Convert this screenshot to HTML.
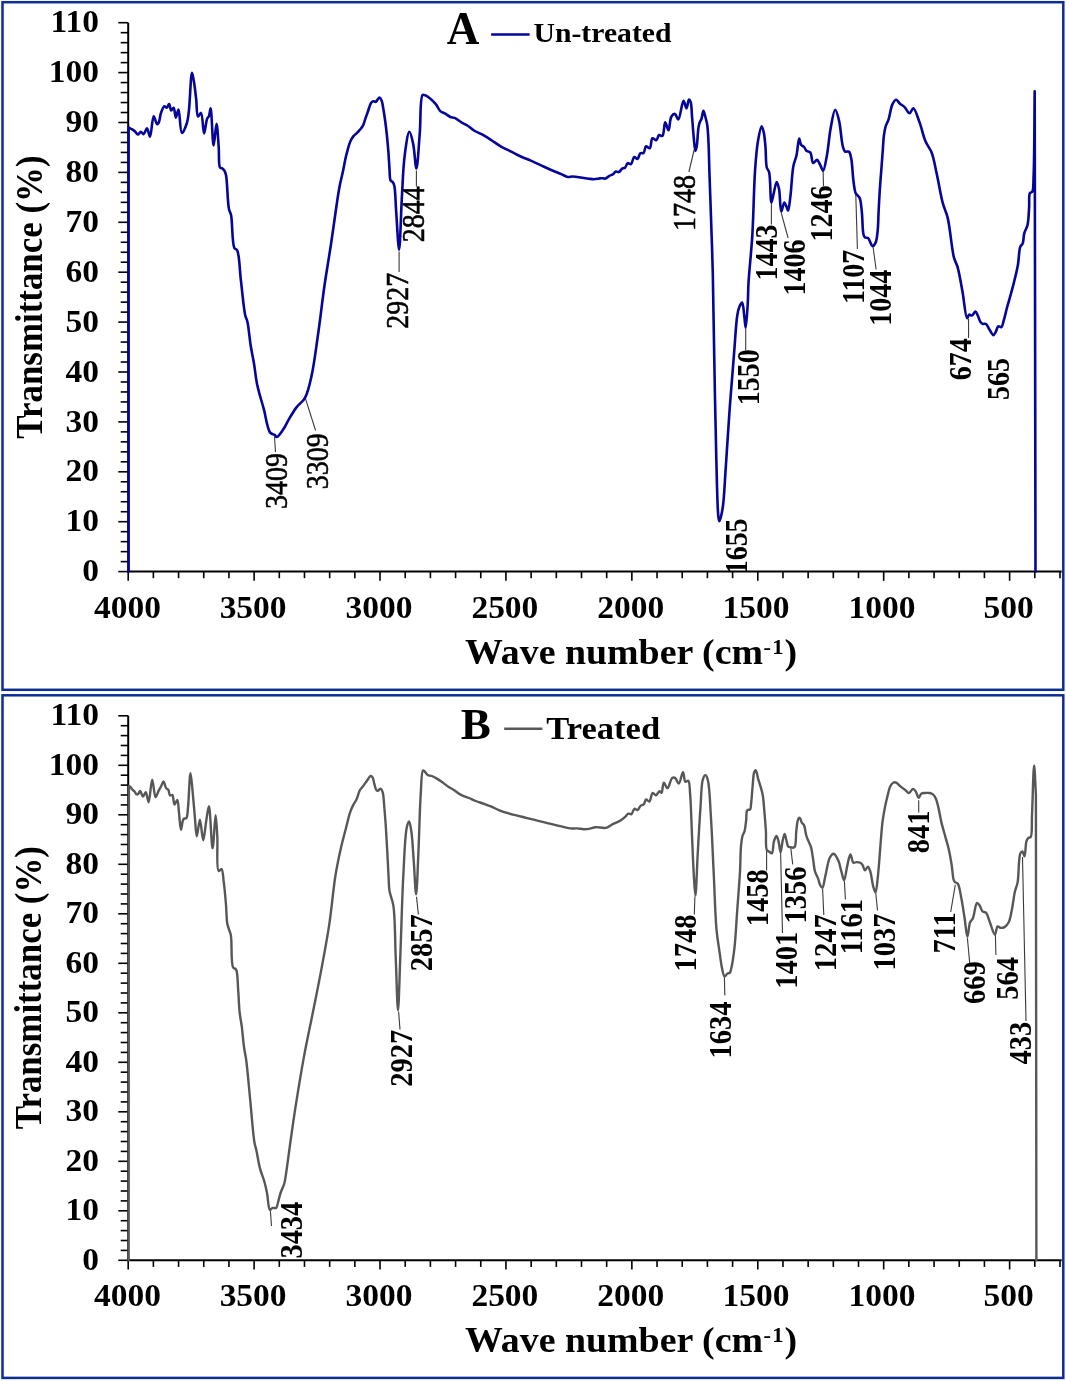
<!DOCTYPE html><html><head><meta charset="utf-8"><style>html,body{margin:0;padding:0;background:#fff;overflow:hidden;}svg{display:block;}</style></head><body>
<svg width="1066" height="1381" viewBox="0 0 1066 1381" style="will-change:transform" font-family='"Liberation Serif", serif'>
<rect width="1066" height="1381" fill="#fff"/>
<rect x="2.5" y="2.2" width="1060.8" height="687.6" fill="none" stroke="#0d2c96" stroke-width="2.5"/>
<rect x="2.5" y="695.3" width="1060.8" height="682.6" fill="none" stroke="#0d2c96" stroke-width="2.5"/>
<g><line x1="128.2" y1="22.7" x2="128.2" y2="571.6" stroke="#000" stroke-width="2"/><line x1="118.3" y1="571.6" x2="128.2" y2="571.6" stroke="#000" stroke-width="1.6"/><line x1="120.7" y1="561.62" x2="128.2" y2="561.62" stroke="#000" stroke-width="1.6"/><line x1="120.7" y1="551.64" x2="128.2" y2="551.64" stroke="#000" stroke-width="1.6"/><line x1="120.7" y1="541.66" x2="128.2" y2="541.66" stroke="#000" stroke-width="1.6"/><line x1="120.7" y1="531.68" x2="128.2" y2="531.68" stroke="#000" stroke-width="1.6"/><line x1="118.3" y1="521.7" x2="128.2" y2="521.7" stroke="#000" stroke-width="1.6"/><line x1="120.7" y1="511.72" x2="128.2" y2="511.72" stroke="#000" stroke-width="1.6"/><line x1="120.7" y1="501.74" x2="128.2" y2="501.74" stroke="#000" stroke-width="1.6"/><line x1="120.7" y1="491.76" x2="128.2" y2="491.76" stroke="#000" stroke-width="1.6"/><line x1="120.7" y1="481.78" x2="128.2" y2="481.78" stroke="#000" stroke-width="1.6"/><line x1="118.3" y1="471.8" x2="128.2" y2="471.8" stroke="#000" stroke-width="1.6"/><line x1="120.7" y1="461.82" x2="128.2" y2="461.82" stroke="#000" stroke-width="1.6"/><line x1="120.7" y1="451.84" x2="128.2" y2="451.84" stroke="#000" stroke-width="1.6"/><line x1="120.7" y1="441.86" x2="128.2" y2="441.86" stroke="#000" stroke-width="1.6"/><line x1="120.7" y1="431.88" x2="128.2" y2="431.88" stroke="#000" stroke-width="1.6"/><line x1="118.3" y1="421.9" x2="128.2" y2="421.9" stroke="#000" stroke-width="1.6"/><line x1="120.7" y1="411.92" x2="128.2" y2="411.92" stroke="#000" stroke-width="1.6"/><line x1="120.7" y1="401.94" x2="128.2" y2="401.94" stroke="#000" stroke-width="1.6"/><line x1="120.7" y1="391.96" x2="128.2" y2="391.96" stroke="#000" stroke-width="1.6"/><line x1="120.7" y1="381.98" x2="128.2" y2="381.98" stroke="#000" stroke-width="1.6"/><line x1="118.3" y1="372" x2="128.2" y2="372" stroke="#000" stroke-width="1.6"/><line x1="120.7" y1="362.02" x2="128.2" y2="362.02" stroke="#000" stroke-width="1.6"/><line x1="120.7" y1="352.04" x2="128.2" y2="352.04" stroke="#000" stroke-width="1.6"/><line x1="120.7" y1="342.06" x2="128.2" y2="342.06" stroke="#000" stroke-width="1.6"/><line x1="120.7" y1="332.08" x2="128.2" y2="332.08" stroke="#000" stroke-width="1.6"/><line x1="118.3" y1="322.1" x2="128.2" y2="322.1" stroke="#000" stroke-width="1.6"/><line x1="120.7" y1="312.12" x2="128.2" y2="312.12" stroke="#000" stroke-width="1.6"/><line x1="120.7" y1="302.14" x2="128.2" y2="302.14" stroke="#000" stroke-width="1.6"/><line x1="120.7" y1="292.16" x2="128.2" y2="292.16" stroke="#000" stroke-width="1.6"/><line x1="120.7" y1="282.18" x2="128.2" y2="282.18" stroke="#000" stroke-width="1.6"/><line x1="118.3" y1="272.2" x2="128.2" y2="272.2" stroke="#000" stroke-width="1.6"/><line x1="120.7" y1="262.22" x2="128.2" y2="262.22" stroke="#000" stroke-width="1.6"/><line x1="120.7" y1="252.24" x2="128.2" y2="252.24" stroke="#000" stroke-width="1.6"/><line x1="120.7" y1="242.26" x2="128.2" y2="242.26" stroke="#000" stroke-width="1.6"/><line x1="120.7" y1="232.28" x2="128.2" y2="232.28" stroke="#000" stroke-width="1.6"/><line x1="118.3" y1="222.3" x2="128.2" y2="222.3" stroke="#000" stroke-width="1.6"/><line x1="120.7" y1="212.32" x2="128.2" y2="212.32" stroke="#000" stroke-width="1.6"/><line x1="120.7" y1="202.34" x2="128.2" y2="202.34" stroke="#000" stroke-width="1.6"/><line x1="120.7" y1="192.36" x2="128.2" y2="192.36" stroke="#000" stroke-width="1.6"/><line x1="120.7" y1="182.38" x2="128.2" y2="182.38" stroke="#000" stroke-width="1.6"/><line x1="118.3" y1="172.4" x2="128.2" y2="172.4" stroke="#000" stroke-width="1.6"/><line x1="120.7" y1="162.42" x2="128.2" y2="162.42" stroke="#000" stroke-width="1.6"/><line x1="120.7" y1="152.44" x2="128.2" y2="152.44" stroke="#000" stroke-width="1.6"/><line x1="120.7" y1="142.46" x2="128.2" y2="142.46" stroke="#000" stroke-width="1.6"/><line x1="120.7" y1="132.48" x2="128.2" y2="132.48" stroke="#000" stroke-width="1.6"/><line x1="118.3" y1="122.5" x2="128.2" y2="122.5" stroke="#000" stroke-width="1.6"/><line x1="120.7" y1="112.52" x2="128.2" y2="112.52" stroke="#000" stroke-width="1.6"/><line x1="120.7" y1="102.54" x2="128.2" y2="102.54" stroke="#000" stroke-width="1.6"/><line x1="120.7" y1="92.56" x2="128.2" y2="92.56" stroke="#000" stroke-width="1.6"/><line x1="120.7" y1="82.58" x2="128.2" y2="82.58" stroke="#000" stroke-width="1.6"/><line x1="118.3" y1="72.6" x2="128.2" y2="72.6" stroke="#000" stroke-width="1.6"/><line x1="120.7" y1="62.62" x2="128.2" y2="62.62" stroke="#000" stroke-width="1.6"/><line x1="120.7" y1="52.64" x2="128.2" y2="52.64" stroke="#000" stroke-width="1.6"/><line x1="120.7" y1="42.66" x2="128.2" y2="42.66" stroke="#000" stroke-width="1.6"/><line x1="120.7" y1="32.68" x2="128.2" y2="32.68" stroke="#000" stroke-width="1.6"/><line x1="118.3" y1="22.7" x2="128.2" y2="22.7" stroke="#000" stroke-width="1.6"/><line x1="127.2" y1="571.6" x2="1061.7" y2="571.6" stroke="#000" stroke-width="2"/><line x1="128.2" y1="571.6" x2="128.2" y2="580.8" stroke="#000" stroke-width="1.6"/><line x1="153.38" y1="571.6" x2="153.38" y2="578.2" stroke="#000" stroke-width="1.6"/><line x1="178.57" y1="571.6" x2="178.57" y2="578.2" stroke="#000" stroke-width="1.6"/><line x1="203.75" y1="571.6" x2="203.75" y2="578.2" stroke="#000" stroke-width="1.6"/><line x1="228.93" y1="571.6" x2="228.93" y2="578.2" stroke="#000" stroke-width="1.6"/><line x1="254.11" y1="571.6" x2="254.11" y2="580.8" stroke="#000" stroke-width="1.6"/><line x1="279.3" y1="571.6" x2="279.3" y2="578.2" stroke="#000" stroke-width="1.6"/><line x1="304.48" y1="571.6" x2="304.48" y2="578.2" stroke="#000" stroke-width="1.6"/><line x1="329.66" y1="571.6" x2="329.66" y2="578.2" stroke="#000" stroke-width="1.6"/><line x1="354.85" y1="571.6" x2="354.85" y2="578.2" stroke="#000" stroke-width="1.6"/><line x1="380.03" y1="571.6" x2="380.03" y2="580.8" stroke="#000" stroke-width="1.6"/><line x1="405.21" y1="571.6" x2="405.21" y2="578.2" stroke="#000" stroke-width="1.6"/><line x1="430.4" y1="571.6" x2="430.4" y2="578.2" stroke="#000" stroke-width="1.6"/><line x1="455.58" y1="571.6" x2="455.58" y2="578.2" stroke="#000" stroke-width="1.6"/><line x1="480.76" y1="571.6" x2="480.76" y2="578.2" stroke="#000" stroke-width="1.6"/><line x1="505.94" y1="571.6" x2="505.94" y2="580.8" stroke="#000" stroke-width="1.6"/><line x1="531.13" y1="571.6" x2="531.13" y2="578.2" stroke="#000" stroke-width="1.6"/><line x1="556.31" y1="571.6" x2="556.31" y2="578.2" stroke="#000" stroke-width="1.6"/><line x1="581.49" y1="571.6" x2="581.49" y2="578.2" stroke="#000" stroke-width="1.6"/><line x1="606.68" y1="571.6" x2="606.68" y2="578.2" stroke="#000" stroke-width="1.6"/><line x1="631.86" y1="571.6" x2="631.86" y2="580.8" stroke="#000" stroke-width="1.6"/><line x1="657.04" y1="571.6" x2="657.04" y2="578.2" stroke="#000" stroke-width="1.6"/><line x1="682.23" y1="571.6" x2="682.23" y2="578.2" stroke="#000" stroke-width="1.6"/><line x1="707.41" y1="571.6" x2="707.41" y2="578.2" stroke="#000" stroke-width="1.6"/><line x1="732.59" y1="571.6" x2="732.59" y2="578.2" stroke="#000" stroke-width="1.6"/><line x1="757.78" y1="571.6" x2="757.78" y2="580.8" stroke="#000" stroke-width="1.6"/><line x1="782.96" y1="571.6" x2="782.96" y2="578.2" stroke="#000" stroke-width="1.6"/><line x1="808.14" y1="571.6" x2="808.14" y2="578.2" stroke="#000" stroke-width="1.6"/><line x1="833.32" y1="571.6" x2="833.32" y2="578.2" stroke="#000" stroke-width="1.6"/><line x1="858.51" y1="571.6" x2="858.51" y2="578.2" stroke="#000" stroke-width="1.6"/><line x1="883.69" y1="571.6" x2="883.69" y2="580.8" stroke="#000" stroke-width="1.6"/><line x1="908.87" y1="571.6" x2="908.87" y2="578.2" stroke="#000" stroke-width="1.6"/><line x1="934.06" y1="571.6" x2="934.06" y2="578.2" stroke="#000" stroke-width="1.6"/><line x1="959.24" y1="571.6" x2="959.24" y2="578.2" stroke="#000" stroke-width="1.6"/><line x1="984.42" y1="571.6" x2="984.42" y2="578.2" stroke="#000" stroke-width="1.6"/><line x1="1009.61" y1="571.6" x2="1009.61" y2="580.8" stroke="#000" stroke-width="1.6"/><line x1="1034.79" y1="571.6" x2="1034.79" y2="578.2" stroke="#000" stroke-width="1.6"/><line x1="1059.97" y1="571.6" x2="1059.97" y2="578.2" stroke="#000" stroke-width="1.6"/></g>
<text transform="translate(82.23 581.25) scale(1.08 1)" font-size="31" font-weight="bold" fill="#000">0</text>
<text transform="translate(65.49 531.35) scale(1.08 1)" font-size="31" font-weight="bold" fill="#000">10</text>
<text transform="translate(65.49 481.45) scale(1.08 1)" font-size="31" font-weight="bold" fill="#000">20</text>
<text transform="translate(65.49 431.55) scale(1.08 1)" font-size="31" font-weight="bold" fill="#000">30</text>
<text transform="translate(65.49 381.65) scale(1.08 1)" font-size="31" font-weight="bold" fill="#000">40</text>
<text transform="translate(65.49 331.75) scale(1.08 1)" font-size="31" font-weight="bold" fill="#000">50</text>
<text transform="translate(65.49 281.85) scale(1.08 1)" font-size="31" font-weight="bold" fill="#000">60</text>
<text transform="translate(65.49 231.95) scale(1.08 1)" font-size="31" font-weight="bold" fill="#000">70</text>
<text transform="translate(65.49 182.05) scale(1.08 1)" font-size="31" font-weight="bold" fill="#000">80</text>
<text transform="translate(65.49 132.15) scale(1.08 1)" font-size="31" font-weight="bold" fill="#000">90</text>
<text transform="translate(48.75 82.25) scale(1.08 1)" font-size="31" font-weight="bold" fill="#000">100</text>
<text transform="translate(50.59 32.35) scale(1.08 1)" font-size="31" font-weight="bold" fill="#000">110</text>
<text transform="translate(94.12 617.75) scale(1.08 1)" font-size="31" font-weight="bold" fill="#000">4000</text>
<text transform="translate(219.63 617.75) scale(1.08 1)" font-size="31" font-weight="bold" fill="#000">3500</text>
<text transform="translate(345.55 617.75) scale(1.08 1)" font-size="31" font-weight="bold" fill="#000">3000</text>
<text transform="translate(471.4 617.75) scale(1.08 1)" font-size="31" font-weight="bold" fill="#000">2500</text>
<text transform="translate(597.31 617.75) scale(1.08 1)" font-size="31" font-weight="bold" fill="#000">2000</text>
<text transform="translate(722.59 617.75) scale(1.08 1)" font-size="31" font-weight="bold" fill="#000">1500</text>
<text transform="translate(848.51 617.75) scale(1.08 1)" font-size="31" font-weight="bold" fill="#000">1000</text>
<text transform="translate(983.46 617.75) scale(1.08 1)" font-size="31" font-weight="bold" fill="#000">500</text>
<text transform="translate(41.6 438.66) scale(1.07 1) rotate(-90)" font-size="34.9" font-weight="bold" fill="#000">Transmittance (%)</text>
<text transform="translate(465.07 663.5) scale(1.07 1)" font-size="35.4" font-weight="bold" fill="#000">Wave number (cm</text>
<text transform="translate(763.57 653.7) scale(1.07 1)" font-size="21" font-weight="bold" fill="#000">-</text>
<text transform="translate(772.2 653.7) scale(1.07 1)" font-size="21" font-weight="bold" fill="#000">1</text>
<text transform="translate(784.54 663.5) scale(1.07 1)" font-size="35.4" font-weight="bold" fill="#000">)</text>
<text transform="translate(446.85 43.7) scale(0.96 1)" font-size="46.97" font-weight="bold" fill="#000">A</text>
<line x1="491.1" y1="34.5" x2="529.6" y2="34.5" stroke="#05059a" stroke-width="2.5"/>
<text transform="translate(533.46 42.13) scale(1.09 1)" font-size="27.27" font-weight="bold" fill="#000">Un-treated</text>
<line x1="274.5" y1="436.8" x2="275.5" y2="452" stroke="#3a3a3a" stroke-width="1.1"/>
<line x1="305.4" y1="398.3" x2="315.6" y2="430.5" stroke="#3a3a3a" stroke-width="1.1"/>
<line x1="399.1" y1="251.4" x2="399.1" y2="272" stroke="#3a3a3a" stroke-width="1.1"/>
<line x1="416.4" y1="170.4" x2="416.4" y2="186.5" stroke="#3a3a3a" stroke-width="1.1"/>
<line x1="694.1" y1="150" x2="688.9" y2="172" stroke="#3a3a3a" stroke-width="1.1"/>
<line x1="745.7" y1="328.9" x2="745.7" y2="350.5" stroke="#3a3a3a" stroke-width="1.1"/>
<line x1="771.4" y1="203.2" x2="771.4" y2="224.5" stroke="#3a3a3a" stroke-width="1.1"/>
<line x1="781.3" y1="213.1" x2="788.1" y2="238" stroke="#3a3a3a" stroke-width="1.1"/>
<line x1="823.1" y1="171.3" x2="823.5" y2="186" stroke="#3a3a3a" stroke-width="1.1"/>
<line x1="855.8" y1="194.9" x2="857.4" y2="249" stroke="#3a3a3a" stroke-width="1.1"/>
<line x1="873.1" y1="247.2" x2="876.1" y2="269.5" stroke="#3a3a3a" stroke-width="1.1"/>
<line x1="968.5" y1="319" x2="968.6" y2="338" stroke="#3a3a3a" stroke-width="1.1"/>
<path d="M128.6 571.6 L128.6 127.5 C129.67 128.07 130.74 128.55 131.8 129.2 C132.91 129.88 134.09 130.62 135.1 131.5 C136.12 132.39 136.94 134.47 137.9 134.5 C138.84 134.53 139.83 131.83 140.8 131.8 C141.73 131.77 142.71 134.26 143.6 134.1 C144.81 133.89 145.99 128.3 147 128.4 C148.17 128.51 149.08 136.88 150 136.8 C151.41 136.68 152.14 116.48 153.7 116.3 C154.7 116.19 156.01 123.99 157.1 124.2 C157.68 124.31 158.3 123.4 158.8 122.5 C159.81 120.67 159.97 115.76 161 112.9 C161.9 110.4 163.19 106.5 164.4 106.2 C165.14 106.01 165.99 107.94 166.7 107.8 C167.59 107.63 168.4 104.01 169.1 104.1 C169.96 104.21 170.27 110.2 171.2 110.4 C171.88 110.55 172.93 107.62 173.6 107.8 C174.73 108.1 175.04 117.57 175.9 117.6 C176.69 117.63 177.7 109.43 178.5 109.5 C179.83 109.61 180 132.69 181.9 133 C183.2 133.21 185.74 126.6 186.9 123 C188.13 119.2 188.26 115.94 188.9 110.7 C190.02 101.56 190.76 72.98 192 72.9 C192.62 72.86 193.39 78.46 194 82 C194.84 86.87 195.53 93.71 196.2 99.5 C196.86 105.2 196.54 116.06 198 116.5 C198.76 116.73 200.16 112.67 201 112.9 C202.76 113.39 202.97 133.37 204.1 133.4 C205.07 133.43 205.96 121.19 207.2 118.5 C207.73 117.35 208.42 117.33 208.9 116.3 C209.72 114.54 210.07 108.36 210.6 108.4 C211.75 108.48 212.45 145.47 213.6 145.5 C214.48 145.52 215.66 123.88 216.5 123.9 C217.37 123.92 218.11 139.53 218.7 147 C219.26 154.03 218.4 165.31 220 167.5 C220.49 168.17 221.19 167.83 221.8 168.2 C222.61 168.69 223.63 169.43 224.3 170.4 C225.11 171.58 225.49 172.71 226 175 C227.34 181.01 227.48 201.9 228.9 208.7 C229.54 211.77 230.44 212.15 231.1 215.2 C232.53 221.86 231.94 243.14 234.3 247.8 C235.11 249.41 236.37 248.81 237.2 250.4 C239.51 254.82 239.62 270.03 240.9 280.4 C242.28 291.57 243.61 308.25 245.2 315.2 C245.9 318.28 246.72 318.81 247.4 321.7 C248.68 327.14 249.52 338.37 250.7 345.7 C251.71 351.95 252.87 356.89 253.9 363 C255.05 369.84 255.64 377.41 257.2 384.8 C258.85 392.63 261.53 400.73 263.7 408.7 C265.87 416.67 267.26 429.01 270.2 432.6 C271.51 434.2 273.46 433.96 274.6 434.8 C275.5 435.46 275.82 437.02 276.7 437 C278.3 436.96 281.33 432.12 283.3 429.3 C285.36 426.35 286.69 422.98 288.7 419.6 C290.97 415.78 293.52 411.29 296.3 407.6 C298.97 404.05 302.64 402.03 305 397.8 C308.1 392.24 309.58 384.56 311.5 376.1 C314.11 364.6 315.91 349.24 318 334.8 C320.29 318.94 322.31 300.66 324.6 284.8 C326.69 270.36 329.08 256.97 331.1 243.5 C333.03 230.63 334.89 216.31 336.5 205.7 C337.67 197.98 338.54 191.71 339.7 185.7 C340.67 180.71 341.83 176.64 342.8 172.1 C343.77 167.57 344.61 162.48 345.5 158.5 C346.2 155.35 346.82 152.89 347.6 150.1 C348.39 147.29 349.13 144.13 350.2 141.7 C351.09 139.67 352.15 137.87 353.3 136.4 C354.28 135.15 355.45 134.35 356.5 133.3 C357.55 132.25 358.59 131.27 359.6 130.1 C360.7 128.82 361.89 127.58 362.8 125.9 C363.9 123.87 364.54 121.04 365.4 118.6 C366.27 116.14 367.07 113.74 368 111.2 C368.99 108.48 369.98 104.38 371.2 102.8 C371.86 101.95 372.52 101.47 373.3 101.3 C374.09 101.13 375.2 102.07 375.9 101.8 C376.6 101.53 376.91 100.38 377.5 99.7 C378.13 98.98 378.94 97.54 379.6 97.6 C380.35 97.67 381.14 99.38 381.7 100.7 C382.49 102.58 382.69 105.25 383.2 108.1 C383.89 111.94 384.68 117.15 385.3 121.7 C385.92 126.25 386.4 130.53 386.9 135.4 C387.47 140.94 388.06 147.44 388.5 153.2 C388.92 158.62 389.11 164.15 389.5 169 C389.83 173.14 389.49 178.51 390.6 180.5 C391.13 181.45 392.12 181.36 392.7 182.1 C393.41 183 393.85 183.89 394.3 185.7 C395.47 190.37 395.49 202.38 396.2 211.9 C397.05 223.33 398.21 249.61 399.1 249.6 C400.15 249.59 400.9 213.33 401.9 196.8 C402.78 182.16 403.13 167.23 404.7 155.4 C405.9 146.39 407.74 131.89 409.4 131.8 C410.62 131.74 412.14 139.25 413.2 144.1 C414.66 150.8 415.39 168.52 416.4 168.5 C417.62 168.48 418.78 144.87 419.8 132.8 C420.85 120.41 419.84 97.47 422.6 95.1 C423.31 94.49 424.17 94.99 425.1 95.3 C426.53 95.77 428.44 97.08 430.1 98.4 C432.08 99.98 434.28 102.25 436 104.4 C437.67 106.49 438.56 109.54 440.3 111.1 C441.75 112.41 443.65 112.65 445.3 113.6 C447.02 114.6 448.72 116.29 450.4 117 C451.81 117.6 453.06 117.26 454.6 117.9 C456.84 118.84 459.88 121.55 462.2 122.9 C464.04 123.97 465.53 124.4 467.3 125.5 C469.44 126.83 471.56 129 474 130.5 C476.6 132.09 479.71 133.17 482.5 134.7 C485.34 136.26 487.98 137.94 490.9 139.8 C494.16 141.87 497.64 144.6 501.1 146.6 C504.41 148.51 507.84 149.92 511.2 151.6 C514.57 153.28 517.9 155.14 521.3 156.7 C524.64 158.23 528.04 159.43 531.4 160.9 C534.81 162.39 538.21 164.05 541.6 165.6 C544.97 167.15 548.32 168.73 551.7 170.2 C555.05 171.66 558.87 173.16 561.8 174.4 C564.06 175.36 565.85 176.7 567.8 177 C569.51 177.27 570.88 176.46 572.8 176.5 C575.43 176.55 579.24 177.41 582.1 177.8 C584.54 178.13 586.81 178.46 588.9 178.7 C590.69 178.91 592.15 179.23 593.9 179.2 C595.83 179.17 598.36 178.57 600 178.4 C601.11 178.29 601.87 178.17 602.8 178.2 C603.74 178.23 604.65 178.84 605.6 178.6 C606.83 178.29 608.14 176.52 609.4 175.8 C610.5 175.17 611.66 175.05 612.7 174.4 C613.84 173.69 614.78 171.91 615.9 171.6 C616.83 171.34 617.85 172.41 618.8 172.1 C620.07 171.69 621.3 168.93 622.5 168.3 C623.31 167.87 624.17 168.4 624.9 167.9 C625.99 167.15 626.51 163.68 627.7 163.2 C628.64 162.82 630.06 164.54 631 164.1 C632.42 163.44 632.84 157.53 634.2 157.1 C635.16 156.79 636.56 159.29 637.5 159 C638.71 158.63 639.03 154.2 640.3 153.3 C641.22 152.65 642.72 153.6 643.6 152.9 C644.87 151.89 644.75 146.79 646 146.3 C646.96 145.92 648.72 148.63 649.7 148.2 C651.25 147.53 650.93 138.99 652.5 138.3 C653.51 137.86 655.25 140.53 656.3 140.2 C657.54 139.81 657.88 135.5 659.1 135 C660.03 134.62 661.51 136.53 662.4 136 C664.18 134.94 664 122.52 665.2 122.4 C666.14 122.31 667.56 130.39 668.5 130.3 C669.7 130.18 669.61 119.38 671.3 116.7 C672.28 115.15 673.91 113.68 675 113.9 C676.29 114.16 677.24 119.64 678.3 119.5 C680.14 119.26 681.88 100.89 683.5 100.8 C684.55 100.74 685.62 108.35 686.5 108.3 C687.43 108.25 687.97 99.76 688.9 99.6 C689.45 99.51 690.23 100.9 690.7 102.2 C691.69 104.93 691.55 110.99 692 116.1 C692.55 122.36 693.06 130.75 693.7 137 C694.22 142.11 694.71 150.84 695.4 150.9 C695.79 150.93 696.31 148.51 696.7 146.5 C697.49 142.39 697.76 131.75 698.5 127.4 C698.89 125.1 699.24 123.74 699.8 122.2 C700.28 120.89 700.98 120.13 701.5 118.7 C702.24 116.64 702.71 110.93 703.4 110.9 C704.02 110.88 704.79 114.83 705.4 117 C706.08 119.43 706.72 121.66 707.2 124.8 C707.9 129.43 708.16 135.81 708.5 142.2 C708.91 150.02 709.02 159.61 709.3 168.3 C709.58 176.98 709.83 183.28 710.2 194.3 C710.85 213.52 712.12 246.43 712.8 273.4 C713.51 301.61 713.74 330.23 714.3 360 C714.9 391.68 715.5 429.56 716.3 458.1 C716.92 480.2 717.28 508.66 718.4 516.9 C718.7 519.13 718.96 521.1 719.4 521.1 C720.16 521.11 721.71 513.93 722.6 508.5 C724.17 498.98 724.63 483.42 725.7 468.6 C727.04 449.97 728.43 425.56 729.9 405.5 C731.24 387.19 732.78 369.06 734.1 353 C735.22 339.37 735.96 323.24 737.3 315.2 C737.94 311.36 738.42 309.06 739.4 306.8 C740.14 305.09 741.38 302.45 742.1 302.6 C743.26 302.84 743.6 310.99 744.2 315.2 C744.8 319.39 745.2 327.81 745.7 327.8 C746.4 327.79 747.33 310.5 747.8 302.6 C748.21 295.61 748.04 290.8 748.5 282.8 C749.22 270.44 751.25 252.73 752.3 235.7 C753.54 215.58 753.87 187.18 755.1 169.8 C755.91 158.39 756.52 149.42 757.9 141.5 C758.92 135.64 760.55 126.45 761.7 126.4 C762.45 126.37 763.23 130.06 763.8 132.6 C764.66 136.41 765.02 141.93 765.5 147.2 C766.06 153.4 765.64 163.21 766.8 167.5 C767.38 169.66 768.46 169.8 769.1 172.1 C770.65 177.7 770.24 202.4 771.4 202.5 C772.04 202.56 772.87 196.6 773.7 193.4 C774.63 189.81 775.71 182.03 776.7 182 C777.47 181.97 778.35 185.82 779 188.8 C780.15 194.12 780.06 211.46 781.3 211.6 C782.1 211.69 783.27 202.58 784.3 202.5 C785.05 202.44 785.94 205.55 786.6 207 C787.19 208.31 787.63 210.85 788.1 210.8 C788.98 210.7 789.66 202.1 790.4 196.4 C791.46 188.15 791.95 173.47 793.4 166 C794.27 161.51 795.6 159.37 796.5 155.4 C797.61 150.47 798.25 138.66 799.2 138.6 C799.78 138.56 799.99 143.26 801 144.7 C801.79 145.82 803.22 146.03 804.1 147 C805.04 148.04 805.35 149.91 806.4 150.8 C807.41 151.65 809.18 151.17 810.2 152.3 C811.88 154.16 811.66 162.51 813.2 163 C814.23 163.32 815.89 159.73 817 159.9 C818.18 160.08 819.04 162.83 820 164.5 C821.08 166.36 822.14 170.71 823.1 170.6 C824.55 170.44 825.77 161.24 826.9 155.4 C828.4 147.64 829.13 136.17 830.7 128 C831.99 121.28 833.62 109.88 835.2 109.8 C836.42 109.74 837.91 116.03 839 120.4 C840.67 127.06 841.3 140.86 842.8 146.2 C843.51 148.73 843.89 150.8 845.1 151.6 C846.08 152.25 847.93 150.91 848.9 151.6 C850.23 152.55 850.55 155.42 851.2 158.4 C852.35 163.72 852.57 174.8 853.5 181.2 C854.18 185.91 854.4 190.45 855.8 193.4 C856.77 195.43 858.64 195.82 859.6 197.9 C861.07 201.1 861.19 206.44 861.8 211.6 C862.58 218.24 862.4 230.5 863.5 234.5 C863.92 236.03 864.22 236.92 865 237.5 C865.74 238.05 867.05 237.33 868 238 C869.67 239.17 871.13 245.96 872.6 246.1 C873.63 246.2 874.82 244.26 875.6 242.6 C876.88 239.87 877.2 234.92 877.7 230.4 C878.31 224.82 878.26 218.08 878.6 211.6 C878.96 204.65 879.32 197.39 879.8 190 C880.31 182.21 881.06 173.19 881.6 166 C882.04 160.13 882.41 155.19 882.8 150 C883.17 145.07 883.34 139.84 883.9 135.6 C884.35 132.21 884.76 129.3 885.6 126.5 C886.37 123.94 887.65 122.24 888.6 119.4 C889.93 115.4 890.63 108.09 892.3 104.6 C893.36 102.39 894.71 99.79 896 99.7 C897.19 99.62 898.33 102.21 899.7 103.4 C901.18 104.69 903.05 105.59 904.6 107.1 C906.37 108.81 908.08 113.33 909.6 113.3 C910.95 113.27 912.04 108.16 913.3 108.3 C915.26 108.51 917.49 116.89 919.4 121.9 C921.64 127.8 923.24 136.07 925.6 141.6 C927.45 145.93 929.99 148.28 931.7 152.7 C933.92 158.45 935.01 166.01 936.7 173.6 C938.7 182.6 940.62 195.1 942.8 203.2 C944.36 209 946.2 211.74 947.7 217.9 C950.11 227.79 951.62 248.6 953.9 257.3 C955.08 261.78 956.43 263.1 957.6 267.2 C959.4 273.51 960.94 283.44 962.5 291.8 C964.11 300.46 965.44 318.02 967.1 318.3 C967.75 318.41 968.19 315.08 969.1 314.7 C969.86 314.38 970.99 315.76 971.9 315.5 C973.13 315.15 974.49 311.49 975.5 311.6 C976.43 311.7 977.05 313.99 977.8 315.5 C978.76 317.42 979.46 320.9 980.6 322.3 C981.32 323.17 982.13 323.64 983 323.9 C983.86 324.16 984.93 323.42 985.8 323.9 C987.15 324.63 988.14 327.65 989.4 329.5 C990.68 331.38 992.23 335.09 993.4 335.1 C994.29 335.11 995.07 333.17 995.8 331.9 C996.7 330.34 997.03 326.88 998.2 326.3 C999.06 325.87 1000.55 327.55 1001.4 327.1 C1002.62 326.45 1002.93 323.22 1003.7 320.7 C1004.77 317.21 1005.91 311.7 1006.9 308 C1007.68 305.11 1008.24 303.4 1009.1 300.3 C1010.4 295.61 1012.43 288.51 1013.9 282.6 C1015.36 276.74 1016.84 270.95 1017.9 265 C1018.98 258.98 1018.87 250.2 1020.3 246.7 C1020.96 245.07 1022.08 244.98 1022.7 243.5 C1023.71 241.11 1023.43 236.29 1024.3 233.1 C1025.09 230.21 1026.72 228.35 1027.5 225.1 C1028.62 220.46 1028.69 213.15 1029.1 207.6 C1029.47 202.57 1028.58 195.51 1029.9 193.2 C1030.49 192.17 1031.68 192.64 1032.3 191.6 C1033.73 189.17 1033.25 183.29 1033.6 176 C1034.42 159.04 1034.33 119.47 1034.7 91.2 L1035.5 571.6" fill="none" stroke="#05059a" stroke-width="2.6" stroke-linejoin="round" stroke-linecap="round"/>
<text transform="translate(287.05 509) scale(1.09 1) rotate(-90)" font-size="28" font-weight="normal" fill="#000" stroke="#000" stroke-width="0.5">3409</text>
<text transform="translate(328.35 489.2) scale(1.09 1) rotate(-90)" font-size="28" font-weight="normal" fill="#000" stroke="#000" stroke-width="0.5">3309</text>
<text transform="translate(408.05 328.66) scale(1.09 1) rotate(-90)" font-size="28" font-weight="normal" fill="#000" stroke="#000" stroke-width="0.5">2927</text>
<text transform="translate(424.1 242.14) scale(1.09 1) rotate(-90)" font-size="28" font-weight="normal" fill="#000" stroke="#000" stroke-width="0.5">2844</text>
<text transform="translate(694.5 230.95) scale(1.09 1) rotate(-90)" font-size="28" font-weight="normal" fill="#000" stroke="#000" stroke-width="0.5">1748</text>
<text transform="translate(746.7 574.35) scale(1.09 1) rotate(-90)" font-size="28" font-weight="bold" fill="#000">1655</text>
<text transform="translate(758.85 405.24) scale(1.09 1) rotate(-90)" font-size="28" font-weight="bold" fill="#000">1550</text>
<text transform="translate(777.35 280.39) scale(1.09 1) rotate(-90)" font-size="28" font-weight="bold" fill="#000">1443</text>
<text transform="translate(804.9 295.41) scale(1.09 1) rotate(-90)" font-size="28" font-weight="bold" fill="#000">1406</text>
<text transform="translate(831.5 241.46) scale(1.09 1) rotate(-90)" font-size="28" font-weight="bold" fill="#000">1246</text>
<text transform="translate(863.85 304.06) scale(1.09 1) rotate(-90)" font-size="28" font-weight="bold" fill="#000">1107</text>
<text transform="translate(890.7 325.7) scale(1.09 1) rotate(-90)" font-size="28" font-weight="bold" fill="#000">1044</text>
<text transform="translate(970.7 380.16) scale(1.09 1) rotate(-90)" font-size="28" font-weight="bold" fill="#000">674</text>
<text transform="translate(1008.9 399.94) scale(1.09 1) rotate(-90)" font-size="28" font-weight="bold" fill="#000">565</text>
<g><line x1="128.2" y1="715.8" x2="128.2" y2="1260.3" stroke="#000" stroke-width="2"/><line x1="118.3" y1="1260.3" x2="128.2" y2="1260.3" stroke="#000" stroke-width="1.6"/><line x1="120.7" y1="1250.4" x2="128.2" y2="1250.4" stroke="#000" stroke-width="1.6"/><line x1="120.7" y1="1240.5" x2="128.2" y2="1240.5" stroke="#000" stroke-width="1.6"/><line x1="120.7" y1="1230.6" x2="128.2" y2="1230.6" stroke="#000" stroke-width="1.6"/><line x1="120.7" y1="1220.7" x2="128.2" y2="1220.7" stroke="#000" stroke-width="1.6"/><line x1="118.3" y1="1210.8" x2="128.2" y2="1210.8" stroke="#000" stroke-width="1.6"/><line x1="120.7" y1="1200.9" x2="128.2" y2="1200.9" stroke="#000" stroke-width="1.6"/><line x1="120.7" y1="1191" x2="128.2" y2="1191" stroke="#000" stroke-width="1.6"/><line x1="120.7" y1="1181.1" x2="128.2" y2="1181.1" stroke="#000" stroke-width="1.6"/><line x1="120.7" y1="1171.2" x2="128.2" y2="1171.2" stroke="#000" stroke-width="1.6"/><line x1="118.3" y1="1161.3" x2="128.2" y2="1161.3" stroke="#000" stroke-width="1.6"/><line x1="120.7" y1="1151.4" x2="128.2" y2="1151.4" stroke="#000" stroke-width="1.6"/><line x1="120.7" y1="1141.5" x2="128.2" y2="1141.5" stroke="#000" stroke-width="1.6"/><line x1="120.7" y1="1131.6" x2="128.2" y2="1131.6" stroke="#000" stroke-width="1.6"/><line x1="120.7" y1="1121.7" x2="128.2" y2="1121.7" stroke="#000" stroke-width="1.6"/><line x1="118.3" y1="1111.8" x2="128.2" y2="1111.8" stroke="#000" stroke-width="1.6"/><line x1="120.7" y1="1101.9" x2="128.2" y2="1101.9" stroke="#000" stroke-width="1.6"/><line x1="120.7" y1="1092" x2="128.2" y2="1092" stroke="#000" stroke-width="1.6"/><line x1="120.7" y1="1082.1" x2="128.2" y2="1082.1" stroke="#000" stroke-width="1.6"/><line x1="120.7" y1="1072.2" x2="128.2" y2="1072.2" stroke="#000" stroke-width="1.6"/><line x1="118.3" y1="1062.3" x2="128.2" y2="1062.3" stroke="#000" stroke-width="1.6"/><line x1="120.7" y1="1052.4" x2="128.2" y2="1052.4" stroke="#000" stroke-width="1.6"/><line x1="120.7" y1="1042.5" x2="128.2" y2="1042.5" stroke="#000" stroke-width="1.6"/><line x1="120.7" y1="1032.6" x2="128.2" y2="1032.6" stroke="#000" stroke-width="1.6"/><line x1="120.7" y1="1022.7" x2="128.2" y2="1022.7" stroke="#000" stroke-width="1.6"/><line x1="118.3" y1="1012.8" x2="128.2" y2="1012.8" stroke="#000" stroke-width="1.6"/><line x1="120.7" y1="1002.9" x2="128.2" y2="1002.9" stroke="#000" stroke-width="1.6"/><line x1="120.7" y1="993" x2="128.2" y2="993" stroke="#000" stroke-width="1.6"/><line x1="120.7" y1="983.1" x2="128.2" y2="983.1" stroke="#000" stroke-width="1.6"/><line x1="120.7" y1="973.2" x2="128.2" y2="973.2" stroke="#000" stroke-width="1.6"/><line x1="118.3" y1="963.3" x2="128.2" y2="963.3" stroke="#000" stroke-width="1.6"/><line x1="120.7" y1="953.4" x2="128.2" y2="953.4" stroke="#000" stroke-width="1.6"/><line x1="120.7" y1="943.5" x2="128.2" y2="943.5" stroke="#000" stroke-width="1.6"/><line x1="120.7" y1="933.6" x2="128.2" y2="933.6" stroke="#000" stroke-width="1.6"/><line x1="120.7" y1="923.7" x2="128.2" y2="923.7" stroke="#000" stroke-width="1.6"/><line x1="118.3" y1="913.8" x2="128.2" y2="913.8" stroke="#000" stroke-width="1.6"/><line x1="120.7" y1="903.9" x2="128.2" y2="903.9" stroke="#000" stroke-width="1.6"/><line x1="120.7" y1="894" x2="128.2" y2="894" stroke="#000" stroke-width="1.6"/><line x1="120.7" y1="884.1" x2="128.2" y2="884.1" stroke="#000" stroke-width="1.6"/><line x1="120.7" y1="874.2" x2="128.2" y2="874.2" stroke="#000" stroke-width="1.6"/><line x1="118.3" y1="864.3" x2="128.2" y2="864.3" stroke="#000" stroke-width="1.6"/><line x1="120.7" y1="854.4" x2="128.2" y2="854.4" stroke="#000" stroke-width="1.6"/><line x1="120.7" y1="844.5" x2="128.2" y2="844.5" stroke="#000" stroke-width="1.6"/><line x1="120.7" y1="834.6" x2="128.2" y2="834.6" stroke="#000" stroke-width="1.6"/><line x1="120.7" y1="824.7" x2="128.2" y2="824.7" stroke="#000" stroke-width="1.6"/><line x1="118.3" y1="814.8" x2="128.2" y2="814.8" stroke="#000" stroke-width="1.6"/><line x1="120.7" y1="804.9" x2="128.2" y2="804.9" stroke="#000" stroke-width="1.6"/><line x1="120.7" y1="795" x2="128.2" y2="795" stroke="#000" stroke-width="1.6"/><line x1="120.7" y1="785.1" x2="128.2" y2="785.1" stroke="#000" stroke-width="1.6"/><line x1="120.7" y1="775.2" x2="128.2" y2="775.2" stroke="#000" stroke-width="1.6"/><line x1="118.3" y1="765.3" x2="128.2" y2="765.3" stroke="#000" stroke-width="1.6"/><line x1="120.7" y1="755.4" x2="128.2" y2="755.4" stroke="#000" stroke-width="1.6"/><line x1="120.7" y1="745.5" x2="128.2" y2="745.5" stroke="#000" stroke-width="1.6"/><line x1="120.7" y1="735.6" x2="128.2" y2="735.6" stroke="#000" stroke-width="1.6"/><line x1="120.7" y1="725.7" x2="128.2" y2="725.7" stroke="#000" stroke-width="1.6"/><line x1="118.3" y1="715.8" x2="128.2" y2="715.8" stroke="#000" stroke-width="1.6"/><line x1="127.2" y1="1260.3" x2="1061.7" y2="1260.3" stroke="#000" stroke-width="2"/><line x1="128.2" y1="1260.3" x2="128.2" y2="1269.5" stroke="#000" stroke-width="1.6"/><line x1="153.38" y1="1260.3" x2="153.38" y2="1266.9" stroke="#000" stroke-width="1.6"/><line x1="178.57" y1="1260.3" x2="178.57" y2="1266.9" stroke="#000" stroke-width="1.6"/><line x1="203.75" y1="1260.3" x2="203.75" y2="1266.9" stroke="#000" stroke-width="1.6"/><line x1="228.93" y1="1260.3" x2="228.93" y2="1266.9" stroke="#000" stroke-width="1.6"/><line x1="254.11" y1="1260.3" x2="254.11" y2="1269.5" stroke="#000" stroke-width="1.6"/><line x1="279.3" y1="1260.3" x2="279.3" y2="1266.9" stroke="#000" stroke-width="1.6"/><line x1="304.48" y1="1260.3" x2="304.48" y2="1266.9" stroke="#000" stroke-width="1.6"/><line x1="329.66" y1="1260.3" x2="329.66" y2="1266.9" stroke="#000" stroke-width="1.6"/><line x1="354.85" y1="1260.3" x2="354.85" y2="1266.9" stroke="#000" stroke-width="1.6"/><line x1="380.03" y1="1260.3" x2="380.03" y2="1269.5" stroke="#000" stroke-width="1.6"/><line x1="405.21" y1="1260.3" x2="405.21" y2="1266.9" stroke="#000" stroke-width="1.6"/><line x1="430.4" y1="1260.3" x2="430.4" y2="1266.9" stroke="#000" stroke-width="1.6"/><line x1="455.58" y1="1260.3" x2="455.58" y2="1266.9" stroke="#000" stroke-width="1.6"/><line x1="480.76" y1="1260.3" x2="480.76" y2="1266.9" stroke="#000" stroke-width="1.6"/><line x1="505.94" y1="1260.3" x2="505.94" y2="1269.5" stroke="#000" stroke-width="1.6"/><line x1="531.13" y1="1260.3" x2="531.13" y2="1266.9" stroke="#000" stroke-width="1.6"/><line x1="556.31" y1="1260.3" x2="556.31" y2="1266.9" stroke="#000" stroke-width="1.6"/><line x1="581.49" y1="1260.3" x2="581.49" y2="1266.9" stroke="#000" stroke-width="1.6"/><line x1="606.68" y1="1260.3" x2="606.68" y2="1266.9" stroke="#000" stroke-width="1.6"/><line x1="631.86" y1="1260.3" x2="631.86" y2="1269.5" stroke="#000" stroke-width="1.6"/><line x1="657.04" y1="1260.3" x2="657.04" y2="1266.9" stroke="#000" stroke-width="1.6"/><line x1="682.23" y1="1260.3" x2="682.23" y2="1266.9" stroke="#000" stroke-width="1.6"/><line x1="707.41" y1="1260.3" x2="707.41" y2="1266.9" stroke="#000" stroke-width="1.6"/><line x1="732.59" y1="1260.3" x2="732.59" y2="1266.9" stroke="#000" stroke-width="1.6"/><line x1="757.78" y1="1260.3" x2="757.78" y2="1269.5" stroke="#000" stroke-width="1.6"/><line x1="782.96" y1="1260.3" x2="782.96" y2="1266.9" stroke="#000" stroke-width="1.6"/><line x1="808.14" y1="1260.3" x2="808.14" y2="1266.9" stroke="#000" stroke-width="1.6"/><line x1="833.32" y1="1260.3" x2="833.32" y2="1266.9" stroke="#000" stroke-width="1.6"/><line x1="858.51" y1="1260.3" x2="858.51" y2="1266.9" stroke="#000" stroke-width="1.6"/><line x1="883.69" y1="1260.3" x2="883.69" y2="1269.5" stroke="#000" stroke-width="1.6"/><line x1="908.87" y1="1260.3" x2="908.87" y2="1266.9" stroke="#000" stroke-width="1.6"/><line x1="934.06" y1="1260.3" x2="934.06" y2="1266.9" stroke="#000" stroke-width="1.6"/><line x1="959.24" y1="1260.3" x2="959.24" y2="1266.9" stroke="#000" stroke-width="1.6"/><line x1="984.42" y1="1260.3" x2="984.42" y2="1266.9" stroke="#000" stroke-width="1.6"/><line x1="1009.61" y1="1260.3" x2="1009.61" y2="1269.5" stroke="#000" stroke-width="1.6"/><line x1="1034.79" y1="1260.3" x2="1034.79" y2="1266.9" stroke="#000" stroke-width="1.6"/><line x1="1059.97" y1="1260.3" x2="1059.97" y2="1266.9" stroke="#000" stroke-width="1.6"/></g>
<text transform="translate(82.23 1269.95) scale(1.08 1)" font-size="31" font-weight="bold" fill="#000">0</text>
<text transform="translate(65.49 1220.45) scale(1.08 1)" font-size="31" font-weight="bold" fill="#000">10</text>
<text transform="translate(65.49 1170.95) scale(1.08 1)" font-size="31" font-weight="bold" fill="#000">20</text>
<text transform="translate(65.49 1121.45) scale(1.08 1)" font-size="31" font-weight="bold" fill="#000">30</text>
<text transform="translate(65.49 1071.95) scale(1.08 1)" font-size="31" font-weight="bold" fill="#000">40</text>
<text transform="translate(65.49 1022.45) scale(1.08 1)" font-size="31" font-weight="bold" fill="#000">50</text>
<text transform="translate(65.49 972.95) scale(1.08 1)" font-size="31" font-weight="bold" fill="#000">60</text>
<text transform="translate(65.49 923.45) scale(1.08 1)" font-size="31" font-weight="bold" fill="#000">70</text>
<text transform="translate(65.49 873.95) scale(1.08 1)" font-size="31" font-weight="bold" fill="#000">80</text>
<text transform="translate(65.49 824.45) scale(1.08 1)" font-size="31" font-weight="bold" fill="#000">90</text>
<text transform="translate(48.75 774.95) scale(1.08 1)" font-size="31" font-weight="bold" fill="#000">100</text>
<text transform="translate(50.59 725.45) scale(1.08 1)" font-size="31" font-weight="bold" fill="#000">110</text>
<text transform="translate(94.12 1306.45) scale(1.08 1)" font-size="31" font-weight="bold" fill="#000">4000</text>
<text transform="translate(219.63 1306.45) scale(1.08 1)" font-size="31" font-weight="bold" fill="#000">3500</text>
<text transform="translate(345.55 1306.45) scale(1.08 1)" font-size="31" font-weight="bold" fill="#000">3000</text>
<text transform="translate(471.4 1306.45) scale(1.08 1)" font-size="31" font-weight="bold" fill="#000">2500</text>
<text transform="translate(597.31 1306.45) scale(1.08 1)" font-size="31" font-weight="bold" fill="#000">2000</text>
<text transform="translate(722.59 1306.45) scale(1.08 1)" font-size="31" font-weight="bold" fill="#000">1500</text>
<text transform="translate(848.51 1306.45) scale(1.08 1)" font-size="31" font-weight="bold" fill="#000">1000</text>
<text transform="translate(983.46 1306.45) scale(1.08 1)" font-size="31" font-weight="bold" fill="#000">500</text>
<text transform="translate(41.4 1129.26) scale(1.07 1) rotate(-90)" font-size="34.9" font-weight="bold" fill="#000">Transmittance (%)</text>
<text transform="translate(465.07 1351.7) scale(1.07 1)" font-size="35.4" font-weight="bold" fill="#000">Wave number (cm</text>
<text transform="translate(763.57 1341.9) scale(1.07 1)" font-size="21" font-weight="bold" fill="#000">-</text>
<text transform="translate(772.2 1341.9) scale(1.07 1)" font-size="21" font-weight="bold" fill="#000">1</text>
<text transform="translate(784.54 1351.7) scale(1.07 1)" font-size="35.4" font-weight="bold" fill="#000">)</text>
<text transform="translate(460.63 739.47) scale(1.03 1)" font-size="43.77" font-weight="bold" fill="#000">B</text>
<line x1="504.2" y1="728.8" x2="542.4" y2="728.8" stroke="#575757" stroke-width="2.5"/>
<text transform="translate(546.35 739.09) scale(1.1 1)" font-size="31.39" font-weight="bold" fill="#000">Treated</text>
<line x1="270.3" y1="1209.7" x2="271.5" y2="1226" stroke="#3a3a3a" stroke-width="1.1"/>
<line x1="398.6" y1="1011.6" x2="400" y2="1029.5" stroke="#3a3a3a" stroke-width="1.1"/>
<line x1="416.5" y1="896.7" x2="418.4" y2="914.5" stroke="#3a3a3a" stroke-width="1.1"/>
<line x1="694.9" y1="896.6" x2="694.3" y2="914.5" stroke="#3a3a3a" stroke-width="1.1"/>
<line x1="724.4" y1="976.5" x2="724.8" y2="995.5" stroke="#3a3a3a" stroke-width="1.1"/>
<line x1="766.6" y1="850.2" x2="766.6" y2="870.5" stroke="#3a3a3a" stroke-width="1.1"/>
<line x1="780.6" y1="852.3" x2="782.5" y2="933" stroke="#3a3a3a" stroke-width="1.1"/>
<line x1="790.7" y1="847.2" x2="792.7" y2="864.4" stroke="#3a3a3a" stroke-width="1.1"/>
<line x1="822.6" y1="888.7" x2="823.8" y2="915" stroke="#3a3a3a" stroke-width="1.1"/>
<line x1="844.4" y1="881.1" x2="845.4" y2="899.5" stroke="#3a3a3a" stroke-width="1.1"/>
<line x1="875.8" y1="893.2" x2="877.5" y2="910.5" stroke="#3a3a3a" stroke-width="1.1"/>
<line x1="918.7" y1="800.2" x2="918.7" y2="812.5" stroke="#3a3a3a" stroke-width="1.1"/>
<line x1="955.3" y1="884.8" x2="950.7" y2="912" stroke="#3a3a3a" stroke-width="1.1"/>
<line x1="967.4" y1="938.1" x2="969.7" y2="963" stroke="#3a3a3a" stroke-width="1.1"/>
<line x1="995.4" y1="934.6" x2="995.9" y2="955" stroke="#3a3a3a" stroke-width="1.1"/>
<line x1="1022.5" y1="857" x2="1026" y2="1021" stroke="#3a3a3a" stroke-width="1.1"/>
<path d="M128.6 1260.3 L128.9 785.9 C129.47 786.27 130.08 786.49 130.6 787 C131.24 787.62 131.64 788.75 132.3 789.5 C132.97 790.25 133.94 790.72 134.6 791.5 C135.28 792.31 135.62 793.92 136.3 794.3 C136.78 794.57 137.39 794.57 137.9 794.3 C138.72 793.87 139.44 790.94 140.2 791 C141.15 791.07 142.02 796.55 143 796.6 C143.9 796.64 144.98 791.98 145.8 792.1 C146.95 792.27 147.71 802.25 148.6 802.2 C149.9 802.13 150.95 779.72 152.2 779.7 C153.3 779.68 154.15 796.92 155.6 797.1 C156.54 797.22 157.8 792.32 158.8 790.4 C159.57 788.91 160.26 787.9 161 786.5 C161.83 784.92 162.7 781.37 163.5 781.4 C164.4 781.44 165.04 786.68 166.1 788.1 C166.76 788.98 167.71 788.94 168.3 789.8 C169.17 791.06 169.04 794.96 170 795.5 C170.61 795.84 171.67 794.52 172.3 794.9 C173.59 795.68 173.46 804.33 174.5 804.5 C175.27 804.63 176.59 799.85 177.3 800 C178.41 800.24 178.43 808.31 179 812.9 C179.66 818.15 180.13 829.75 181 829.8 C181.7 829.84 182.02 820.79 183.5 819.1 C184.28 818.2 185.67 818.9 186.4 818 C187.76 816.31 187.49 811.88 188 807.3 C188.91 799.17 189.56 773.32 190.5 773.3 C191.29 773.29 192.36 789.59 193.1 797.1 C193.77 803.84 194.19 809.84 194.8 816.3 C195.42 822.9 195.89 836.26 196.8 836.3 C197.63 836.34 198.89 819.69 199.9 819.7 C201.02 819.71 202.14 840.2 203.2 840.2 C204.2 840.2 205.11 827.76 206.1 821.9 C207.02 816.46 208.03 806.16 208.9 806.2 C210.31 806.26 211.42 848.4 212.6 848.4 C213.64 848.4 214.76 815.2 215.6 815.2 C216.27 815.2 216.83 828.62 217.3 836.6 C217.89 846.69 216.14 869.55 218.6 870.9 C219.37 871.32 220.73 868.85 221.5 869.2 C222.99 869.89 223.04 876.94 223.7 881.7 C224.56 887.95 225.29 896.36 225.9 903.5 C226.48 910.38 226.49 919.34 227.3 923.8 C227.71 926.06 228.25 927.02 228.8 928.8 C229.43 930.85 230.31 932.32 230.9 935.4 C232.16 942.03 230.7 963.4 233.1 967.5 C233.89 968.84 235.23 968.13 236 969.4 C237.91 972.53 237.6 983.33 238.2 990.4 C238.81 997.59 238.9 1005.69 239.6 1012.2 C240.18 1017.54 241.12 1021.45 241.8 1026.7 C242.6 1032.89 243.17 1041 244 1047 C244.67 1051.83 245.46 1054.47 246.2 1060 C247.5 1069.65 248.85 1086.41 250.2 1099.9 C251.59 1113.79 252.96 1133.76 254.4 1142.2 C255.03 1145.87 255.6 1146.85 256.3 1150 C257.36 1154.77 258.43 1162.54 259.9 1168.1 C261.19 1173 263.17 1177.31 264.4 1181.7 C265.53 1185.72 266.25 1189.16 267.1 1193.4 C268.1 1198.37 268.21 1208.97 269.9 1209.7 C270.65 1210.02 271.58 1208.21 272.6 1207.9 C273.67 1207.58 275.32 1208.53 276.2 1207.9 C277.31 1207.1 277.37 1204.59 278 1202.5 C278.85 1199.69 279.63 1195.72 280.7 1192.5 C281.74 1189.39 283.39 1186.69 284.3 1183.5 C285.27 1180.09 285.53 1176.9 286.2 1172.6 C287.16 1166.43 288.08 1158.67 289.3 1150 C290.96 1138.23 293.03 1122.95 295.3 1108.4 C297.81 1092.3 300.83 1073.75 303.8 1057.6 C306.52 1042.81 309.48 1029.33 312.3 1015.2 C315.11 1001.09 317.97 987.46 320.7 972.9 C323.61 957.42 326.74 941.07 329.2 924.9 C331.69 908.51 333.24 889.1 335.5 875.2 C337.15 865.05 338.85 857.23 340.7 849 C342.37 841.59 344.32 834.5 346 828 C347.46 822.35 348.75 816.42 350.2 812.2 C351.21 809.26 352.17 807.1 353.3 804.9 C354.29 802.95 355.54 801.65 356.5 799.6 C357.69 797.07 358.34 793.04 359.6 790.7 C360.54 788.95 361.67 788.02 362.8 786.5 C364.12 784.73 365.64 782.52 367 780.7 C368.23 779.04 369.49 776.15 370.6 776 C371.34 775.9 372.14 776.75 372.7 777.6 C373.58 778.93 373.69 781.81 374.3 783.9 C374.92 786.01 375.46 789.28 376.4 790.2 C376.87 790.66 377.43 790.81 378 790.7 C378.8 790.55 379.85 788.46 380.6 788.6 C381.45 788.76 382.14 790.58 382.7 792.3 C383.74 795.51 383.81 801.66 384.3 807 C384.89 813.37 385.41 820.61 385.9 828 C386.45 836.25 386.95 845.95 387.4 854.2 C387.8 861.59 388.12 868.71 388.5 875.2 C388.83 880.81 388.68 885.76 389.5 890.9 C390.32 896 392.41 899.35 393.4 905.9 C395.19 917.79 394.94 939.71 395.7 956.9 C396.48 974.47 397.23 1010.2 398 1010.2 C398.77 1010.2 399.51 976.53 400.3 956.9 C401.27 932.69 402.02 899.38 403.3 875.8 C404.3 857.53 404.91 835.45 406.8 827.2 C407.47 824.25 408.41 821.34 409.1 821.4 C410 821.47 410.74 827.4 411.4 831.8 C412.51 839.2 413.03 851.67 413.8 861.9 C414.6 872.52 415.38 894.41 416.1 894.4 C416.92 894.39 417.69 867.75 418.4 852.7 C419.24 834.96 419.68 809.88 420.7 794.7 C421.36 784.85 421.34 771.29 423 770.4 C423.44 770.16 423.96 770.76 424.5 771.2 C425.41 771.94 426.34 774.1 427.6 774.9 C428.8 775.66 430.36 775.45 431.8 776 C433.45 776.63 435.23 777.62 436.9 778.6 C438.63 779.61 440.2 780.73 442 782 C444.1 783.48 446.5 785.55 448.7 787 C450.69 788.31 452.66 789.16 454.6 790.4 C456.6 791.68 458.27 793.38 460.5 794.6 C463 795.97 466.35 796.88 469 798 C471.38 799.01 473.31 800.06 475.7 801 C478.34 802.04 481.54 802.95 484.2 803.9 C486.57 804.75 488.55 805.43 490.9 806.4 C493.58 807.51 496.55 809.16 499.4 810.3 C502.18 811.42 504.97 812.35 507.8 813.2 C510.61 814.05 513.23 814.63 516.3 815.4 C519.91 816.31 524.32 817.37 528.1 818.3 C531.6 819.16 534.83 819.97 538.2 820.8 C541.57 821.63 544.79 822.44 548.3 823.3 C552.1 824.23 556.39 825.32 560.2 826.2 C563.7 827.01 567.26 828.07 570.3 828.4 C572.75 828.66 574.76 828.27 577 828.4 C579.26 828.53 581.69 829.14 583.8 829.2 C585.62 829.25 587.1 829.18 588.9 828.9 C591 828.58 593.11 827.44 595.6 827.2 C598.65 826.91 602.84 828.47 605.9 827.8 C608.64 827.2 610.75 825.12 613.2 823.9 C615.62 822.69 618.38 821.81 620.5 820.5 C622.37 819.34 624.01 817.84 625.4 816.6 C626.53 815.6 627.21 814.07 628.3 813.7 C629.27 813.37 630.59 814.57 631.5 814.1 C632.75 813.46 633.18 809.25 634.4 808.8 C635.32 808.46 636.66 810.29 637.6 810 C638.75 809.65 639.37 806.85 640.5 805.9 C641.45 805.11 642.82 805.26 643.7 804.4 C644.79 803.33 645.04 799.8 646.1 799.5 C646.98 799.25 648.37 801.81 649.3 801.5 C650.76 801.02 651.28 793.29 652.7 792.9 C653.64 792.64 654.85 795.5 655.9 795.4 C657.12 795.28 658.44 791.28 659.5 791.2 C660.23 791.14 660.93 793.09 661.5 792.9 C662.65 792.52 662.61 782.81 663.8 782.6 C664.76 782.43 666.28 788.39 667.5 788.3 C669.08 788.18 670.4 779.06 672.2 777.9 C673.11 777.31 674.2 777.41 675.1 777.9 C676.48 778.64 677.65 783.63 678.8 783.5 C680.34 783.32 681.87 772.14 683 772.2 C684.02 772.26 684.01 780.95 685.4 781.7 C686.18 782.12 687.55 780.24 688.3 780.7 C689.86 781.66 689.59 788.26 690.1 793.9 C691.01 803.86 691.37 821.58 692 835.4 C692.63 849.21 693.2 865.69 693.9 876.8 C694.37 884.29 694.89 895.61 695.4 895.6 C696.15 895.59 696.88 868.44 697.7 854.2 C698.57 839.01 699.49 820.8 700.5 807.1 C701.29 796.47 701.21 783.7 703 778.8 C703.71 776.85 704.82 775.02 705.6 775.1 C706.51 775.19 707.32 777.94 708 780.7 C709.66 787.39 710.03 803.2 710.9 816.5 C711.99 833.19 712.77 854.16 713.7 873 C714.63 891.86 715.19 915.4 716.5 929.6 C717.29 938.22 718.33 943.57 719.3 950.3 C720.23 956.72 721.09 964.3 722.2 969.1 C722.91 972.16 723.4 976.23 724.5 976.5 C725.32 976.7 726.5 974.08 727.5 973.5 C728.23 973.07 729.14 973.41 729.7 972.9 C730.41 972.26 730.56 971.15 731 969.5 C732.07 965.5 733.45 956.47 734.4 948.4 C735.66 937.67 736.28 923.39 737.2 910.7 C738.14 897.76 739.35 883.15 740 871.5 C740.52 862.15 740.39 852.74 741 846.2 C741.39 842.03 741.73 838.76 742.5 836 C743.06 834 744.04 833 744.6 831 C745.37 828.24 745.68 824.2 746.1 820.8 C746.51 817.43 746.17 812.25 747.1 810.7 C747.49 810.04 748.07 809.86 748.6 809.7 C749.08 809.55 749.7 810.04 750.1 809.7 C750.97 808.96 750.85 805.49 751.2 802.6 C751.74 798.1 752.16 790.66 752.7 785.3 C753.17 780.63 753.26 774.64 754.2 772.2 C754.61 771.12 755.22 770.02 755.7 770.1 C756.63 770.26 757.42 776.34 758.3 779.3 C759.12 782.09 760.05 784.69 760.8 787.4 C761.55 790.09 762.26 792.36 762.8 795.5 C763.53 799.75 763.82 805.26 764.3 810.7 C764.86 816.98 765.46 824.32 765.9 831 C766.32 837.49 765.28 847.42 766.9 850.2 C767.54 851.29 768.56 851.28 769.4 851.8 C770.23 852.31 771.23 853.61 771.9 853.3 C773.28 852.66 772.98 844.24 774 841.1 C774.69 838.97 775.74 835.97 776.5 836 C777.24 836.03 777.91 839.04 778.5 841.1 C779.35 844.08 779.92 852.3 780.6 852.3 C781.28 852.3 781.84 844.39 782.6 841.1 C783.21 838.45 783.93 834 784.6 834 C785.27 834 785.97 838.87 786.6 841.1 C787.16 843.08 787.23 845.81 788.2 846.7 C788.84 847.29 789.92 847.02 790.7 847.2 C791.41 847.36 792.04 847.77 792.7 847.7 C793.4 847.63 794.24 847.5 794.8 846.7 C796.26 844.62 795.67 835.89 796.3 831 C796.86 826.67 797.17 820.56 798.3 818.8 C798.73 818.13 799.34 817.66 799.8 817.8 C800.61 818.05 801.07 821.65 801.9 822.9 C802.5 823.8 803.32 823.84 803.9 824.9 C805.07 827.02 805.42 832.88 806.4 836 C807.15 838.37 808.1 840.16 808.9 842.1 C809.63 843.88 810.4 845.13 811 847.2 C811.87 850.17 812.36 854.52 813 858.4 C813.69 862.59 813.95 867.85 815 871.5 C815.81 874.29 817.24 876.3 818.1 878.6 C818.88 880.69 819.17 883.04 820 884.7 C820.65 886 821.6 888.03 822.3 887.9 C823.55 887.67 824.28 880.25 825.4 875.8 C826.77 870.33 827.83 861.17 829.9 857.5 C831 855.54 832.45 853.58 833.7 853.7 C835.26 853.85 837.08 857.94 838.3 860.6 C839.71 863.66 840.3 867.81 841.3 871.2 C842.23 874.35 843.2 880.34 844.1 880.3 C845.25 880.25 846.25 869.7 847.4 865.1 C848.37 861.23 849.32 854.54 850.4 854.5 C851.37 854.46 852.05 862.02 853.5 862.8 C854.36 863.26 855.44 862.12 856.5 862.1 C857.69 862.07 859.26 862.25 860.3 862.8 C861.26 863.3 861.92 864.09 862.6 865.1 C863.51 866.44 863.96 870.28 864.9 870.4 C865.76 870.51 867.03 866.51 867.9 866.6 C868.8 866.69 869.5 869.16 870.2 871.2 C871.41 874.74 872.09 882.51 873.2 886.4 C873.92 888.93 874.84 892.57 875.5 892.5 C876.52 892.39 877.08 883.47 877.8 877.3 C878.91 867.77 879.92 850.97 880.8 840.8 C881.43 833.5 881.76 827.79 882.5 822 C883.14 816.98 883.93 812.47 884.8 808 C885.61 803.83 886.52 799.8 887.5 796 C888.4 792.5 889.09 788.38 890.4 786 C891.28 784.41 892.35 782.95 893.5 782.5 C894.42 782.14 895.6 782.4 896.5 782.8 C897.45 783.23 897.95 784.2 899 785.1 C900.64 786.51 903.68 788.85 905.5 790.3 C906.81 791.35 907.73 793.06 908.9 793 C910.26 792.93 911.86 788.89 913.1 788.9 C914.1 788.91 914.99 790.42 915.8 791.6 C916.89 793.17 917.6 797.72 918.6 797.8 C919.45 797.87 920.15 794.48 921.3 793.7 C922.28 793.04 923.53 793.13 924.8 793 C926.27 792.85 928.16 792.72 929.6 793 C930.86 793.25 932.02 793.61 933 794.4 C934.14 795.32 934.99 796.76 935.8 798.5 C936.95 800.96 937.65 804.59 938.5 808.1 C939.51 812.27 940.19 817.21 941.3 821.9 C942.47 826.84 944.09 832.22 945.4 837 C946.58 841.34 947.8 845.04 948.8 849.4 C949.89 854.16 950.8 859.45 951.6 864.5 C952.4 869.55 952.72 876.9 953.6 879.7 C953.96 880.85 954.19 881.35 954.8 882 C955.51 882.76 956.94 882.64 957.8 883.8 C959.52 886.12 960.16 892.44 961.2 897.5 C962.47 903.67 963.54 911.49 964.6 918.2 C965.6 924.54 966.42 936.68 967.4 936.7 C968.27 936.72 968.76 925.55 970.1 922.3 C970.88 920.41 972.03 920.1 972.9 918.2 C974.46 914.82 975.3 903.45 977 903 C977.85 902.77 978.96 904.63 979.8 905.8 C980.84 907.26 981.27 910.16 982.5 911.3 C983.46 912.19 985 911.71 986 912.7 C987.53 914.21 988.14 917.81 989.4 920.9 C991.03 924.9 993.44 934.75 994.9 934.7 C996.02 934.66 996.29 926.95 997.6 926.4 C998.39 926.07 999.35 927.64 1000.4 927.8 C1001.61 927.98 1003.24 927.81 1004.5 927.1 C1006.06 926.23 1007.56 924.49 1008.7 922.3 C1010.41 919.02 1011.11 913.33 1012.1 908.5 C1013.17 903.27 1013.73 896.73 1014.8 892 C1015.63 888.34 1016.82 886.51 1017.6 882.4 C1018.93 875.4 1018.4 857.42 1020.3 853.5 C1020.9 852.26 1021.78 851.37 1022.4 851.5 C1023.24 851.67 1023.91 856.38 1024.5 856.3 C1025.5 856.16 1025.37 844.28 1026.5 841.1 C1027.08 839.48 1027.76 838.36 1028.6 837.7 C1029.22 837.21 1030.14 837.74 1030.7 837 C1032.48 834.68 1031.55 823.8 1032 815 C1032.67 801.8 1033.35 765.51 1034.1 765.5 C1034.67 765.49 1035.3 784.77 1035.9 794.4 L1036.4 1260.3" fill="none" stroke="#575757" stroke-width="2.4" stroke-linejoin="round" stroke-linecap="round"/>
<text transform="translate(302.21 1258.62) scale(1.12 1) rotate(-90)" font-size="28.5" font-weight="bold" fill="#000">3434</text>
<text transform="translate(411.91 1086.86) scale(1.12 1) rotate(-90)" font-size="28.5" font-weight="bold" fill="#000">2927</text>
<text transform="translate(431.7 971.16) scale(1.12 1) rotate(-90)" font-size="28.5" font-weight="bold" fill="#000">2857</text>
<text transform="translate(696.4 971.42) scale(1.12 1) rotate(-90)" font-size="28.5" font-weight="bold" fill="#000">1748</text>
<text transform="translate(731.41 1058.42) scale(1.12 1) rotate(-90)" font-size="28.5" font-weight="bold" fill="#000">1634</text>
<text transform="translate(768.4 926.27) scale(1.12 1) rotate(-90)" font-size="28.5" font-weight="bold" fill="#000">1458</text>
<text transform="translate(797.05 988.65) scale(1.12 1) rotate(-90)" font-size="28.5" font-weight="bold" fill="#000">1401</text>
<text transform="translate(805.76 923.58) scale(1.12 1) rotate(-90)" font-size="28.5" font-weight="bold" fill="#000">1356</text>
<text transform="translate(835.57 971.2) scale(1.12 1) rotate(-90)" font-size="28.5" font-weight="bold" fill="#000">1247</text>
<text transform="translate(861.61 954.37) scale(1.12 1) rotate(-90)" font-size="28.5" font-weight="bold" fill="#000">1161</text>
<text transform="translate(895.1 970.6) scale(1.12 1) rotate(-90)" font-size="28.5" font-weight="bold" fill="#000">1037</text>
<text transform="translate(928.7 853.15) scale(1.12 1) rotate(-90)" font-size="28.5" font-weight="bold" fill="#000">841</text>
<text transform="translate(955.43 953.51) scale(1.12 1) rotate(-90)" font-size="28.5" font-weight="bold" fill="#000">711</text>
<text transform="translate(984.81 1004.05) scale(1.12 1) rotate(-90)" font-size="28.5" font-weight="bold" fill="#000">669</text>
<text transform="translate(1017.86 999.77) scale(1.12 1) rotate(-90)" font-size="28.5" font-weight="bold" fill="#000">564</text>
<text transform="translate(1031.21 1064.59) scale(1.12 1) rotate(-90)" font-size="28.5" font-weight="bold" fill="#000">433</text>
</svg></body></html>
